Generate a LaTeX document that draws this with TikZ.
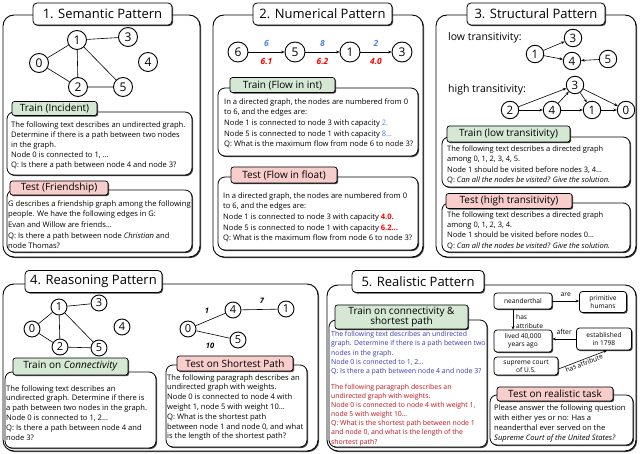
\documentclass[tikz,border=0pt]{standalone}
\usepackage{fontspec}
\setmainfont{Open Sans}
\usetikzlibrary{shadows,arrows.meta}
\definecolor{gfill}{HTML}{D5E8D4}
\definecolor{pfill}{HTML}{F8CECC}
\definecolor{nblue}{HTML}{4A86E8}
\definecolor{nred}{HTML}{FF0000}
\definecolor{tblue}{HTML}{3A3AB0}
\definecolor{tred}{HTML}{C0141C}
\newcommand\fsz[2]{\fontsize{#1}{#2}\selectfont}
\tikzset{
  shad/.style={drop shadow={shadow xshift=1.1pt,shadow yshift=-1.1pt,fill=black,opacity=0.75}},
  panel/.style={draw, line width=0.9pt, rounded corners=11pt, fill=white, shad, inner sep=0pt},
  ptitle/.style={draw, line width=0.8pt, rounded corners=4pt, fill=white, shad, inner sep=0pt, font=\fsz{13}{15}, minimum height=22pt},
  tbox/.style={draw, line width=0.8pt, rounded corners=7pt, fill=white, shad, inner sep=0pt},
  glab/.style={draw, line width=0.7pt, rounded corners=2.5pt, fill=gfill, shad, inner sep=0pt, font=\fsz{10}{11}},
  plab/.style={glab, fill=pfill},
  txt/.style={anchor=north west, inner sep=0pt, align=left},
  gn/.style={circle, draw, line width=0.9pt, fill=white, inner sep=0pt, minimum size=19pt, font=\fsz{12}{12}},
  gs/.style={gn, minimum size=16pt, font=\fsz{11}{11}},
  gm/.style={gn, minimum size=17.5pt, font=\fsz{11.5}{11.5}},
  ed/.style={line width=0.6pt},
  arr/.style={line width=0.6pt, -{Stealth[length=3.5pt,width=2.8pt]}},
  kb/.style={draw, line width=0.8pt, rounded corners=3pt, fill=white, shad, inner sep=0pt, align=center, font=\fsz{6.6}{8}},
  elab/.style={font=\fsz{8.5}{9}\bfseries\itshape, inner sep=0pt},
  wlab/.style={font=\fsz{7.5}{8}\bfseries\itshape, inner sep=0pt},
  klab/.style={font=\fsz{6.8}{8}, inner sep=0pt},
}
\begin{document}
\begin{tikzpicture}[x=1pt,y=-1pt]
\useasboundingbox (0,0) rectangle (640,454);
\fill[white] (0,0) rectangle (640,454);

% ---------- panels ----------
\node[panel, minimum width=197, minimum height=242] (p1) at (101.5,136) {};
\node[panel, minimum width=210, minimum height=242] (p2) at (318,136) {};
\node[panel, minimum width=200, minimum height=242] (p3) at (536,136) {};
\node[panel, minimum width=315, minimum height=167] (p4) at (160.5,367.5) {};
\node[panel, minimum width=309, minimum height=166] (p5) at (481.5,368) {};

\node[ptitle, minimum width=139] (t1) at (102.5,14) {1. Semantic Pattern};
\node[ptitle, minimum width=139] (t2) at (322.5,14) {2. Numerical Pattern};
\node[ptitle, minimum width=138] (t3) at (536,14) {3. Structural Pattern};
\node[ptitle, minimum width=137] (t4) at (93.5,281.5) {4. Reasoning Pattern};
\node[ptitle, minimum width=132] (t5) at (418,281.5) {5. Realistic Pattern};

% ---------- panel 1 ----------
\node[gn] (a0) at (39,63) {0};
\node[gn] (a1) at (77,40) {1};
\node[gn] (a2) at (78,87) {2};
\node[gn] (a3) at (128,37) {3};
\node[gn] (a4) at (148,62) {4};
\node[gn] (a5) at (123,87) {5};
\draw[ed] (a0)--(a1) (a0)--(a2) (a1)--(a2) (a1)--(a3) (a1)--(a5) (a2)--(a5);

\node[tbox, minimum width=185, minimum height=63] (b1a) at (99.5,143.5) {};
\node[glab, minimum width=85, minimum height=14] (l1a) at (54.5,108.5) {Train (Incident)};
\node[txt, font=\fsz{7.6}{10}] (x1a) at (11,121) {The following text describes an undirected graph.\\Determine if there is a path between two nodes\\in the graph.\\Node 0 is connected to 1, …\\Q: Is there a path between node 4 and node 3?};

\node[tbox, minimum width=185, minimum height=62] (b1b) at (99.5,221) {};
\node[plab, minimum width=98, minimum height=14] (l1b) at (59,188) {Test (Friendship)};
\node[txt, font=\fsz{7.6}{10.7}] (x1b) at (8,200) {G describes a friendship graph among the following\\people. We have the following edges in G:\\Evan and Willow are friends…\\Q: Is there a path between node \emph{Christian} and\\node Thomas?};

% ---------- panel 2 ----------
\node[gn, minimum size=20pt] (n6) at (238,52) {6};
\node[gn, minimum size=20pt] (n5) at (295,52) {5};
\node[gn, minimum size=20pt] (n1) at (350,52) {1};
\node[gn, minimum size=20pt] (n3) at (402,52) {3};
\draw[arr] (n6) -- node[elab, text=nblue, yshift=9pt]{6} node[elab, text=nred, yshift=-9pt]{6.1} (n5);
\draw[arr] (n5) -- node[elab, text=nblue, yshift=9pt]{8} node[elab, text=nred, yshift=-9pt]{6.2} (n1);
\draw[arr] (n1) -- node[elab, text=nblue, yshift=9pt]{2} node[elab, text=nred, yshift=-9pt]{4.0} (n3);

\node[tbox, minimum width=200, minimum height=68] (b2a) at (318,122) {};
\node[glab, minimum width=105, minimum height=15] (l2a) at (282.5,85) {Train (Flow in int)};
\node[txt, font=\fsz{7.6}{10.7}] (x2a) at (224,98) {In a directed graph, the nodes are numbered from 0\\to 6, and the edges are:\\Node 1 is connected to node 3 with capacity {\color{nblue}2.}\\Node 5 is connected to node 1 with capacity {\color{nblue}8…}\\Q: What is the maximum flow from node 6 to node 3?};

\node[tbox, minimum width=200, minimum height=73] (b2b) at (318,213.5) {};
\node[plab, minimum width=106, minimum height=16] (l2b) at (284,175) {Test (Flow in float)};
\node[txt, font=\fsz{7.6}{10.7}] (x2b) at (223,192) {In a directed graph, the nodes are numbered from 0\\to 6, and the edges are:\\Node 1 is connected to node 3 with capacity {\color{nred}\bfseries 4.0.}\\Node 5 is connected to node 1 with capacity {\color{nred}\bfseries 6.2…}\\Q: What is the maximum flow from node 6 to node 3?};

% ---------- panel 3 ----------
\node[anchor=west, inner sep=0pt, font=\fsz{10.5}{11}] (lowt) at (448,38) {low transitivity:};
\node[gm] (c1) at (535,54) {1};
\node[gm] (c3) at (573,38) {3};
\node[gm] (c4) at (572,61) {4};
\node[gm] (c5) at (608,59) {5};
\draw[arr] (c1)--(c3);
\draw[arr] (c1)--(c4);
\draw[arr] (c5)--(c4);

\node[anchor=west, inner sep=0pt, font=\fsz{10.5}{11}] (hight) at (448,90) {high transitivity:};
\node[gm] (d3) at (575,85) {3};
\node[gm] (d2) at (510,110) {2};
\node[gm] (d4) at (552,110) {4};
\node[gm] (d1) at (592,110) {1};
\node[gm] (d0) at (626,110) {0};
\draw[arr] (d2)--(d3);
\draw[arr] (d2)--(d4);
\draw[arr] (d4)--(d3);
\draw[arr] (d4)--(d1);
\draw[arr] (d3)--(d1);
\draw[arr] (d1)--(d0);
\draw[arr] (d3)--(d0);

\node[tbox, minimum width=188, minimum height=50] (b3a) at (536,162) {};
\node[glab, minimum width=123, minimum height=16] (l3a) at (508.5,134) {Train (low transitivity)};
\node[txt, font=\fsz{7.5}{10.5}] (x3a) at (447,145.5) {The following text describes a directed graph\\among 0, 1, 2, 3, 4, 5.\\Node 1 should be visited before nodes 3, 4…\\Q: \emph{Can all the nodes be visited? Give the solution.}};

\node[tbox, minimum width=188, minimum height=49] (b3b) at (536,227.5) {};
\node[plab, minimum width=126, minimum height=15] (l3b) at (509,201) {Test (high transitivity)};
\node[txt, font=\fsz{7.5}{10.2}] (x3b) at (447,211.5) {The following text describes a directed graph\\among 0, 1, 2, 3, 4.\\Node 1 should be visited before nodes 0…\\Q: \emph{Can all the nodes be visited? Give the solution.}};

% ---------- panel 4 ----------
\node[gs] (e0) at (32,329) {0};
\node[gs] (e1) at (59,307) {1};
\node[gs] (e2) at (60,347) {2};
\node[gs] (e3) at (99,303) {3};
\node[gs] (e4) at (122,327) {4};
\node[gs] (e5) at (99,348) {5};
\draw[ed] (e0)--(e1) (e0)--(e2) (e1)--(e2) (e1)--(e3) (e1)--(e5) (e2)--(e5);

\node[tbox, minimum width=151, minimum height=76] (b4a) at (80.5,410) {};
\node[glab, minimum width=115, minimum height=17] (l4a) at (70.5,366.5) {Train on \emph{Connectivity}};
\node[txt, font=\fsz{7.6}{9.8}] (x4a) at (6,385) {The following text describes an\\undirected graph. Determine if there is\\a path between two nodes in the graph.\\Node 0 is connected to 1, 2…\\Q: Is there a path between node 4 and\\node 3?};

\node[gs] (f4) at (233,310) {4};
\node[gs] (f1) at (286,309) {1};
\node[gs] (f0) at (188,329) {0};
\node[gs] (f5) at (238,340) {5};
\draw[ed] (f0) -- node[wlab, xshift=-3.5pt, yshift=8.5pt]{1} (f4);
\draw[ed] (f4) -- node[wlab, xshift=2.5pt, yshift=8.5pt]{7} (f1);
\draw[ed] (f0) -- node[wlab, xshift=-3pt, yshift=-11.5pt]{10} (f5);

\node[tbox, minimum width=141, minimum height=82] (b4b) at (236.5,406) {};
\node[plab, minimum width=116, minimum height=15] (l4b) at (235,363.5) {Test on Shortest Path};
\node[txt, font=\fsz{7.6}{9.8}] (x4b) at (167,374) {The following paragraph describes an\\undirected graph with weights.\\Node 0 is connected to node 4 with\\weight 1, node 5 with weight 10…\\Q: What is the shortest path\\between node 1 and node 0, and what\\is the length of the shortest path?};

% ---------- panel 5 ----------
\node[tbox, minimum width=158, minimum height=127] (b5a) at (408,383.5) {};
\node[glab, minimum width=133, minimum height=24, align=center, font=\fsz{10}{10.5}] (l5a) at (401.5,317) {Train on connectivity \&\\shortest path};
\node[txt, font=\fsz{6.9}{9.3}, text=tblue] (x5a) at (331,331) {The following text describes an undirected\\graph. Determine if there is a path between two\\nodes in the graph.\\Node 0 is connected to 1, 2…\\Q: Is there a path between node 4 and node 3?};
\node[txt, font=\fsz{6.9}{9.1}, text=tred] (x5b) at (331,384) {The following paragraph describes an\\undirected graph with weights.\\Node 0 is connected to node 4 with weight 1,\\node 5 with weight 10…\\Q: What is the shortest path between node 1\\and node 0, and what is the length of the\\shortest path?};

\node[kb, minimum width=58, minimum height=16] (k1) at (523,301) {neanderthal};
\node[kb, minimum width=47, minimum height=21] (k2) at (603,302) {primitive\\humans};
\node[kb, minimum width=58, minimum height=22] (k3) at (523,341) {lived 40,000\\years ago};
\node[kb, minimum width=55, minimum height=22] (k4) at (604,339) {established\\in 1798};
\node[kb, minimum width=64, minimum height=18] (k5) at (526,366) {supreme court\\of U.S.};
\draw[arr] (k1.east) -- node[klab, yshift=6pt]{are} (k1.east -| k2.west);
\draw[arr] ([xshift=-10pt]k1.south) -- ([xshift=-10pt]k3.north);
\node[klab, anchor=west, align=left, font=\fsz{6.6}{8.5}] (hasat) at (516,321.5) {has\\attribute};
\draw[arr] (k4.west) -- node[klab, yshift=7pt]{after} (k4.west -| k3.east);
\draw[arr] ([yshift=-3pt]k5.east) -- node[klab, sloped, below=1pt, font=\fsz{6.6}{8}]{has attribute} ([xshift=3pt]k4.south);

\node[tbox, minimum width=143, minimum height=50] (b5b) at (561.5,420) {};
\node[plab, minimum width=116, minimum height=14] (l5b) at (555,394) {Test on realistic task};
\node[txt, font=\fsz{7.6}{10}] (x5c) at (494,404) {Please answer the following question\\with either yes or no: Has a\\neanderthal ever served on the\\\emph{Supreme Court of the United States?}};
\end{tikzpicture}
\end{document}
